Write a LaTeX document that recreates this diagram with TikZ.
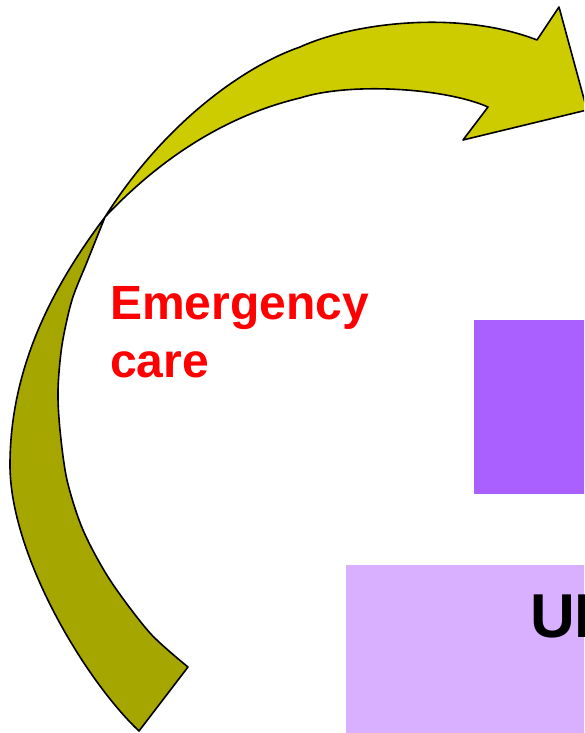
\documentclass[tikz,border=0pt]{standalone}
\usepackage{fontspec}
\setmainfont{Liberation Sans}
\definecolor{arrowlight}{HTML}{CCCC00}
\definecolor{arrowdark}{HTML}{A6A600}
\definecolor{boxdark}{HTML}{AA5FFF}
\definecolor{boxlight}{HTML}{D8B0FF}
\definecolor{labelred}{HTML}{FF0000}
\tikzset{
  ribbon/.style={draw=black, line width=1.6pt, line join=round},
  lbl/.style={inner sep=0pt, anchor=base west, font=\bfseries},
}
\begin{document}
\begin{tikzpicture}[x=1pt,y=-1pt]
\useasboundingbox (0,0) rectangle (584,733);
\clip (0,0) rectangle (584,733);
% boxes
\fill[boxdark] (474,320) rectangle (590,494);
\fill[boxlight] (346,565) rectangle (590,740);
\node[lbl, font=\bfseries\fontsize{62}{62}\selectfont] (uk) at (530,637) {UK};
% lower (dark) part of the curved arrow
\path[ribbon, fill=arrowdark]
  (105,217) .. controls (60,277) and (10,360) .. (10,465)
  .. controls (10,555) and (85,680) .. (139,731)
  -- (188,667)
  -- plot[smooth] coordinates {(188,667) (150,633) (110,580) (83,530) (67,480) (60,430) (58,390) (62,345) (72,300) (87,262) (105,217)}
  -- cycle;
% upper (light) part with head
\path[ribbon, fill=arrowlight]
  (105,217) .. controls (165,122) and (245,66) .. (300,47)
  .. controls (355,22) and (460,10) .. (537,40)
  -- (559,7) -- (587,110) -- (463,140) -- (488,107)
  .. controls (445,88) and (350,82) .. (300,98)
  .. controls (220,117) and (155,164) .. (105,217)
  -- cycle;
% label
\node[lbl, text=labelred, font=\bfseries\fontsize{48}{58}\selectfont] (emerg) at (110,319) {Emergency};
\node[lbl, text=labelred, font=\bfseries\fontsize{48}{58}\selectfont] (care) at (110,377) {care};
\end{tikzpicture}
\end{document}
